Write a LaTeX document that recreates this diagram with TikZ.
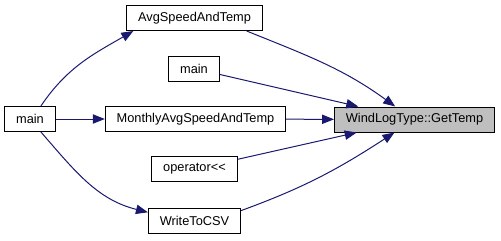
\documentclass[tikz,border=0pt]{standalone}
\usepackage{fontspec}
\setmainfont{Liberation Sans}
\usetikzlibrary{arrows.meta}
\definecolor{linkblue}{HTML}{191970}
\definecolor{focusgray}{HTML}{BFBFBF}
\tikzset{box/.style={rectangle,draw=black,fill=white,line width=0.75pt,align=center,inner xsep=8.5pt,inner ysep=0pt,minimum height=18.75pt,font=\fontsize{9.6}{11}\selectfont},line/.style={-{Triangle[length=9pt,width=7pt]},draw=linkblue,line width=0.75pt}}

\begin{document}
\begin{tikzpicture}[x=0.75pt,y=-0.75pt]
\useasboundingbox (0,0) rectangle (501,240);
\node[box] (a) at (30,119) {main};
\node[box] (b) at (194.5,18) {AvgSpeedAndTemp};
\node[box] (c) at (194,68.5) {main};
\node[box] (d) at (195.5,119) {MonthlyAvgSpeedAndTemp};
\node[box] (e) at (194.5,169) {operator<{}<};
\node[box] (f) at (194.5,220.5) {WriteToCSV};
\node[box, fill=focusgray] (g) at (414.5,119.5) {WindLogType::GetTemp};
\draw[line] (a.50) to[out=56, in=210] (b.192);
\draw[line] (a) -- (d);
\draw[line] (a.-50) to[out=-49, in=166] (f.170);
\draw[line] (b.-14) to[out=-22, in=144] (g.146);
\draw[line] (c) -- (g);
\draw[line] (d) -- (g);
\draw[line] (e) -- (g);
\draw[line] (f.12) to[out=20, in=213] (g.213);
\end{tikzpicture}
\end{document}
